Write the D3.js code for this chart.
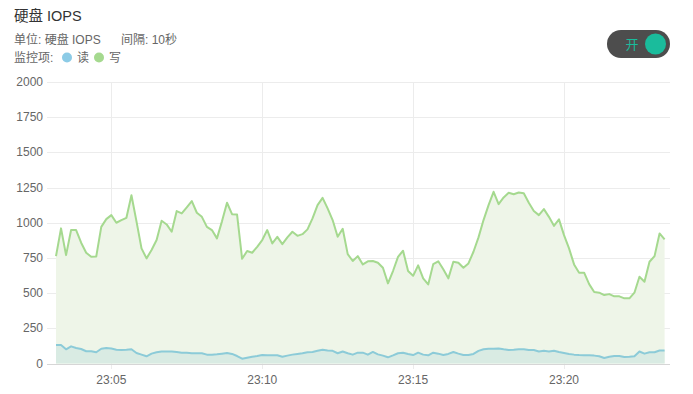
<!DOCTYPE html>
<html>
<head>
<meta charset="utf-8">
<script src="https://cdn.jsdelivr.net/npm/d3@7"></script>
<style>
  body { margin: 0; background: #fff; font-family: "Liberation Sans", "Noto Sans CJK SC", sans-serif; }
  svg { display: block; }
</style>
</head>
<body>
<svg id="chart" width="693" height="394"></svg>
<script>
// 10s samples starting 23:03:10
const startTime = new Date(2024, 0, 1, 23, 3, 10);
const stepSeconds = 10;

const writeIops = [
  763, 960, 770, 948, 948, 858, 787, 758, 760, 971,
  1026, 1054, 1000, 1019, 1035, 1195, 1010, 818, 747, 806,
  877, 1014, 988, 936, 1083, 1066, 1109, 1154, 1071, 1042,
  971, 948, 889, 1010, 1142, 1061, 1058, 744, 799, 787,
  829, 877, 948, 853, 900, 848, 896, 936, 907, 919,
  953, 1031, 1125, 1177, 1102, 1019, 900, 957, 777, 728,
  763, 704, 726, 728, 716, 680, 569, 657, 758, 801,
  657, 623, 697, 605, 562, 706, 726, 669, 605, 723,
  716, 680, 711, 794, 896, 1019, 1125, 1220, 1132, 1180,
  1213, 1203, 1215, 1210, 1142, 1083, 1054, 1097, 1042, 978,
  1024, 912, 818, 704, 645, 645, 564, 508, 503, 486,
  493, 477, 477, 463, 463, 503, 616, 581, 723, 763,
  924, 882
];

const readIops = [
  131, 131, 101, 122, 110, 103, 87, 87, 80, 105,
  110, 107, 98, 96, 98, 101, 75, 63, 51, 70,
  80, 85, 85, 85, 82, 77, 77, 73, 73, 73,
  63, 63, 65, 70, 75, 68, 53, 34, 41, 48,
  53, 60, 58, 58, 58, 48, 56, 63, 68, 73,
  80, 82, 90, 98, 92, 90, 73, 85, 73, 63,
  77, 77, 63, 82, 65, 56, 44, 58, 73, 77,
  68, 60, 77, 63, 58, 77, 70, 60, 68, 82,
  70, 60, 60, 68, 90, 101, 105, 105, 107, 101,
  96, 98, 101, 101, 96, 96, 85, 90, 85, 90,
  82, 75, 68, 63, 60, 58, 58, 56, 51, 39,
  48, 53, 53, 46, 48, 51, 85, 70, 80, 80,
  92, 92
];

const yTicks = [0, 250, 500, 750, 1000, 1250, 1500, 1750, 2000];
const xTickLabels = ["23:05", "23:10", "23:15", "23:20"];

const times = writeIops.map((_, i) => new Date(startTime.getTime() + i * stepSeconds * 1000));
const data = times.map((t, i) => ({ t, w: writeIops[i], r: readIops[i] }));

const svg = d3.select("#chart");

// header
svg.append("text").attr("x", 14).attr("y", 21)
  .attr("font-size", 14.5).attr("fill", "#333").text("硬盘 IOPS");
svg.append("text").attr("x", 14).attr("y", 44)
  .attr("font-size", 12).attr("fill", "#666").text("单位: 硬盘 IOPS");
svg.append("text").attr("x", 121).attr("y", 44)
  .attr("font-size", 12).attr("fill", "#666").text("间隔: 10秒");
svg.append("text").attr("x", 14).attr("y", 62)
  .attr("font-size", 12).attr("fill", "#666").text("监控项:");
svg.append("circle").attr("cx", 67).attr("cy", 57.5).attr("r", 5).attr("fill", "#8ccbe6");
svg.append("text").attr("x", 77).attr("y", 62)
  .attr("font-size", 12).attr("fill", "#666").text("读");
svg.append("circle").attr("cx", 99).attr("cy", 57.5).attr("r", 5).attr("fill", "#a5d98f");
svg.append("text").attr("x", 109).attr("y", 62)
  .attr("font-size", 12).attr("fill", "#666").text("写");

// toggle switch
svg.append("rect").attr("x", 607).attr("y", 30).attr("width", 63).attr("height", 28)
  .attr("rx", 14).attr("fill", "#4d4d4d");
svg.append("text").attr("x", 632).attr("y", 48.5).attr("text-anchor", "middle")
  .attr("font-size", 13).attr("fill", "#1abc9c").text("开");
svg.append("circle").attr("cx", 655.5).attr("cy", 44).attr("r", 10.5).attr("fill", "#1abc9c");

// scales
const x = d3.scaleTime().domain([times[0], times[times.length - 1]]).range([56, 664.6]);
const y = d3.scaleLinear().domain([0, 2000]).range([363.5, 82]);

const gridLeft = 47, gridRight = 670;

// horizontal grid
svg.append("g").selectAll("line").data(yTicks.slice(1)).enter().append("line")
  .attr("x1", gridLeft).attr("x2", gridRight)
  .attr("y1", d => Math.round(y(d)) + 0.5).attr("y2", d => Math.round(y(d)) + 0.5)
  .attr("stroke", "#ececec");

// y labels
svg.append("g").selectAll("text").data(yTicks).enter().append("text")
  .attr("x", 43).attr("y", d => y(d) + 4)
  .attr("text-anchor", "end").attr("font-size", 12).attr("fill", "#666")
  .text(d => d);

// vertical grid at x ticks
const xTickTimes = xTickLabels.map(s => {
  const [h, m] = s.split(":").map(Number);
  return new Date(2024, 0, 1, h, m, 0);
});
svg.append("g").selectAll("line").data(xTickTimes).enter().append("line")
  .attr("x1", d => Math.round(x(d)) + 0.5).attr("x2", d => Math.round(x(d)) + 0.5)
  .attr("y1", 82).attr("y2", 369)
  .attr("stroke", "#ececec");

// areas and lines
const areaW = d3.area().x(d => x(d.t)).y0(y(0)).y1(d => y(d.w));
const areaR = d3.area().x(d => x(d.t)).y0(y(0)).y1(d => y(d.r));
const lineW = d3.line().x(d => x(d.t)).y(d => y(d.w));
const lineR = d3.line().x(d => x(d.t)).y(d => y(d.r));

svg.append("path").datum(data).attr("d", areaW).attr("fill", "#eef5e8");
svg.append("path").datum(data).attr("d", areaR).attr("fill", "#d9ebe3");
svg.append("path").datum(data).attr("d", lineW)
  .attr("fill", "none").attr("stroke", "#a5d98f").attr("stroke-width", 2).attr("stroke-linejoin", "round");
svg.append("path").datum(data).attr("d", lineR)
  .attr("fill", "none").attr("stroke", "#8ccbd8").attr("stroke-width", 2).attr("stroke-linejoin", "round");

// baseline
svg.append("line").attr("x1", gridLeft).attr("x2", gridRight)
  .attr("y1", Math.round(y(0)) + 0.5).attr("y2", Math.round(y(0)) + 0.5)
  .attr("stroke", "#d6d6d6");

// x labels
svg.append("g").selectAll("text").data(xTickTimes).enter().append("text")
  .attr("x", d => x(d)).attr("y", 384)
  .attr("text-anchor", "middle").attr("font-size", 12).attr("fill", "#666")
  .text((d, i) => xTickLabels[i]);
</script>
</body>
</html>
